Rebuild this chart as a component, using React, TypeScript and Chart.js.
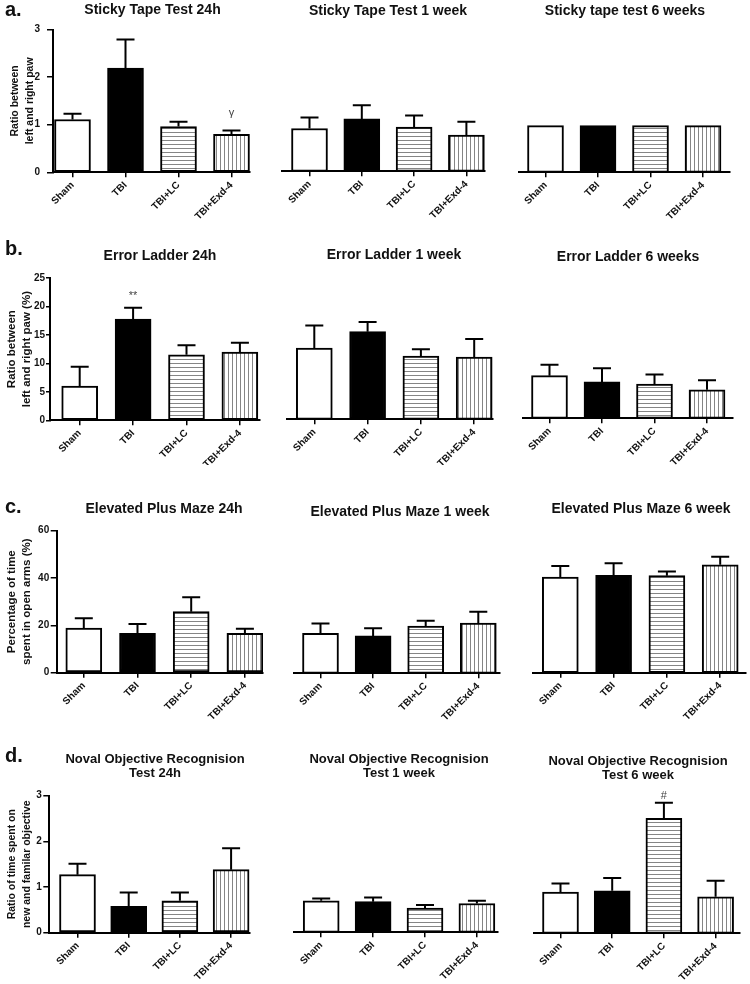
import React, { useEffect, useRef } from 'react';
import { Chart, registerables } from 'chart.js';

Chart.register(...registerables);

const FONT = "'Liberation Sans', Arial, Helvetica, sans-serif";

// ---------- data ----------
const groups = ['Sham', 'TBI', 'TBI+LC', 'TBI+Exd-4'];

const stickyTicks = [0, 1, 2, 3];
const ladderTicks = [0, 5, 10, 15, 20, 25];
const mazeTicks = [0, 20, 40, 60];
const novelTicks = [0, 1, 2, 3];

// a. Sticky tape test (mean, SEM)
const sticky24h = [1.11, 2.19, 0.96, 0.8];
const sticky24hSem = [0.12, 0.6, 0.1, 0.08];
const sticky24hMarks = ['', '', '', 'γ'];
const sticky1w = [0.9, 1.1, 0.93, 0.76];
const sticky1wSem = [0.23, 0.29, 0.24, 0.28];
const sticky6w = [0.98, 0.98, 0.98, 0.98];
const sticky6wSem = [0, 0, 0, 0];

// b. Error ladder
const ladder24h = [6.0, 17.8, 11.5, 12.0];
const ladder24hSem = [3.4, 2.0, 1.7, 1.65];
const ladder24hMarks = ['', '**', '', ''];
const ladder1w = [12.5, 15.4, 11.1, 10.95];
const ladder1wSem = [4.0, 1.7, 1.2, 3.15];
const ladder6w = [7.5, 6.4, 6.0, 5.0];
const ladder6wSem = [1.9, 2.4, 1.7, 1.7];

// c. Elevated plus maze
const maze24h = [18.8, 16.6, 25.8, 16.6];
const maze24hSem = [4.2, 4.0, 6.1, 2.0];
const maze1w = [16.9, 15.8, 20.0, 21.2];
const maze1wSem = [4.1, 3.2, 2.2, 4.8];
const maze6w = [40.4, 41.1, 41.0, 45.6];
const maze6wSem = [4.7, 5.1, 1.8, 3.4];

// d. Novel object recognition
const novel24h = [1.27, 0.58, 0.7, 1.38];
const novel24hSem = [0.24, 0.3, 0.18, 0.47];
const novel1w = [0.69, 0.67, 0.53, 0.63];
const novel1wSem = [0.05, 0.09, 0.07, 0.06];
const novel6w = [0.9, 0.93, 2.52, 0.8];
const novel6wSem = [0.19, 0.28, 0.34, 0.35];
const novel6wMarks = ['', '', '#', ''];

// ---------- layout ----------
const COLS = [
  { l: 0, r: 270 },
  { l: 270, r: 510 },
  { l: 510, r: 750 },
];

type RowDef = {
  t: number; b: number; yMax: number; ppu: number; ticks: number[];
  yTitle: string[]; yTitleSize: number; letter: string; letterY: number; yTitleX: number;
  titleSize: number; tickLen: number; tickPad: number;
};

const ROWS: RowDef[] = [
  { t: 0, b: 235, yMax: 3, ppu: 47.6, ticks: stickyTicks, yTitle: ['Ratio between', 'left and right paw'], yTitleSize: 10.5, letter: 'a.', letterY: 16, yTitleX: 15, titleSize: 14, tickLen: 6, tickPad: 7 },
  { t: 235, b: 465, yMax: 25, ppu: 5.69, ticks: ladderTicks, yTitle: ['Ratio between', 'left and right paw (%)'], yTitleSize: 11.5, letter: 'b.', letterY: 255, yTitleX: 12, titleSize: 14, tickLen: 4, tickPad: 1 },
  { t: 465, b: 722, yMax: 60, ppu: 2.367, ticks: mazeTicks, yTitle: ['Percentage of time', 'spent in open arms (%)'], yTitleSize: 11.5, letter: 'c.', letterY: 513, yTitleX: 12, titleSize: 14, tickLen: 6, tickPad: 1.5 },
  { t: 722, b: 984, yMax: 3, ppu: 45.67, ticks: novelTicks, yTitle: ['Ratio of time spent on', 'new and familar objective'], yTitleSize: 10.5, letter: 'd.', letterY: 762, yTitleX: 12, titleSize: 13, tickLen: 6, tickPad: 1.5 },
];

type PanelDef = {
  row: number; col: number; title: string[]; tx: number; ty: number;
  values: number[]; sem: number[]; marks?: string[]; markDy?: number;
  x0: number; sp: number; L: number; R: number; bottom: number;
};

const PANELS: PanelDef[] = [
  { row: 0, col: 0, title: ['Sticky Tape Test 24h'], tx: 152.5, ty: 10.5, values: sticky24h, sem: sticky24hSem, marks: sticky24hMarks, markDy: 14, x0: 72.5, sp: 53, L: 53, R: 250, bottom: 172.3 },
  { row: 0, col: 1, title: ['Sticky Tape Test 1 week'], tx: 388, ty: 10.7, values: sticky1w, sem: sticky1wSem, x0: 309.5, sp: 52.3, L: 282, R: 485, bottom: 171.3 },
  { row: 0, col: 2, title: ['Sticky tape test 6 weeks'], tx: 625, ty: 11, values: sticky6w, sem: sticky6wSem, x0: 545.5, sp: 52.5, L: 519, R: 730, bottom: 172.3 },

  { row: 1, col: 0, title: ['Error Ladder 24h'], tx: 160, ty: 256, values: ladder24h, sem: ladder24hSem, marks: ladder24hMarks, markDy: 9, x0: 79.7, sp: 53.4, L: 50, R: 260, bottom: 420.3 },
  { row: 1, col: 1, title: ['Error Ladder 1 week'], tx: 394, ty: 255, values: ladder1w, sem: ladder1wSem, x0: 314.3, sp: 53.3, L: 287, R: 493, bottom: 419.3 },
  { row: 1, col: 2, title: ['Error Ladder 6 weeks'], tx: 628, ty: 257, values: ladder6w, sem: ladder6wSem, x0: 549.5, sp: 52.5, L: 523, R: 733, bottom: 418.3 },

  { row: 2, col: 0, title: ['Elevated Plus Maze 24h'], tx: 164, ty: 509, values: maze24h, sem: maze24hSem, x0: 83.8, sp: 53.7, L: 56.7, R: 263, bottom: 672.7 },
  { row: 2, col: 1, title: ['Elevated Plus Maze 1 week'], tx: 400, ty: 512, values: maze1w, sem: maze1wSem, x0: 320.5, sp: 52.6, L: 294, R: 500, bottom: 673.3 },
  { row: 2, col: 2, title: ['Elevated Plus Maze 6 week'], tx: 641, ty: 509, values: maze6w, sem: maze6wSem, x0: 560.3, sp: 53.3, L: 533, R: 746, bottom: 672.7 },

  { row: 3, col: 0, title: ['Noval Objective Recognision', 'Test 24h'], tx: 155, ty: 759, values: novel24h, sem: novel24hSem, x0: 77.5, sp: 51.2, L: 49.3, R: 250, bottom: 932.7 },
  { row: 3, col: 1, title: ['Noval Objective Recognision', 'Test 1 week'], tx: 399, ty: 759, values: novel1w, sem: novel1wSem, x0: 321.2, sp: 51.9, L: 294, R: 498, bottom: 932.3 },
  { row: 3, col: 2, title: ['Noval Objective Recognision', 'Test 6 week'], tx: 638, ty: 761, values: novel6w, sem: novel6wSem, marks: novel6wMarks, markDy: 4, x0: 560.5, sp: 51.7, L: 534, R: 740, bottom: 933.3 },
];

function stripe(ctx: CanvasRenderingContext2D, kind: 'h' | 'v'): CanvasPattern | string {
  const c = document.createElement('canvas');
  c.width = 4;
  c.height = 4;
  const g = c.getContext('2d')!;
  g.fillStyle = '#ffffff';
  g.fillRect(0, 0, 4, 4);
  g.fillStyle = '#858585';
  if (kind === 'h') g.fillRect(0, 0, 4, 1);
  else g.fillRect(0, 0, 1, 4);
  return ctx.createPattern(c, 'repeat') || '#ccc';
}

const Panel: React.FC<{ p: PanelDef }> = ({ p }) => {
  const ref = useRef<HTMLCanvasElement>(null);
  const row = ROWS[p.row];
  const col = COLS[p.col];
  const w = col.r - col.l;
  const h = row.b - row.t;

  useEffect(() => {
    const canvas = ref.current!;
    const ctx = canvas.getContext('2d')!;
    const first = p.col === 0;
    const plotTop = p.bottom - row.yMax * row.ppu;

    const errPlugin = {
      id: 'errbars',
      afterDatasetsDraw(chart: any) {
        const c = chart.ctx;
        const ys = chart.scales.y;
        const meta = chart.getDatasetMeta(0);
        c.save();
        c.strokeStyle = '#000';
        c.lineWidth = 2;
        meta.data.forEach((el: any, i: number) => {
          const s = p.sem[i];
          const topPx = ys.getPixelForValue(p.values[i] + s);
          if (s > 0) {
            c.beginPath();
            c.moveTo(el.x, el.y);
            c.lineTo(el.x, topPx);
            c.moveTo(el.x - 9, topPx);
            c.lineTo(el.x + 9, topPx);
            c.stroke();
          }
          const m = p.marks ? p.marks[i] : '';
          if (m) {
            c.fillStyle = '#444';
            c.font = `11px ${FONT}`;
            c.textAlign = 'center';
            c.textBaseline = 'alphabetic';
            c.fillText(m, el.x, topPx - (p.markDy || 6));
          }
        });
        c.restore();
      },
    };

    const textPlugin = {
      id: 'texts',
      afterDraw(chart: any) {
        const c = chart.ctx;
        c.save();
        c.fillStyle = '#111';
        c.textAlign = 'center';
        c.textBaseline = 'middle';
        c.font = `bold ${row.titleSize}px ${FONT}`;
        p.title.forEach((line, k) => c.fillText(line, p.tx - col.l, p.ty - row.t + k * 14));
        if (first) {
          c.textAlign = 'left';
          c.textBaseline = 'alphabetic';
          c.font = `bold 20px ${FONT}`;
          c.fillText(row.letter, 5 - col.l, row.letterY - row.t);
        }
        c.restore();
      },
    };

    const chart = new Chart(ctx, {
      type: 'bar',
      data: {
        datasets: [
          {
            data: p.values.map((v, i) => ({ x: i, y: v })),
            backgroundColor: ['#ffffff', '#000000', stripe(ctx, 'h'), stripe(ctx, 'v')] as any,
            borderColor: '#000',
            borderWidth: 2,
            borderSkipped: false,
            barThickness: 36,
          } as any,
        ],
      },
      options: {
        responsive: false,
        animation: false,
        devicePixelRatio: 1,
        events: [],
        layout: {
          padding: {
            left: first ? 0 : p.L - col.l,
            right: col.r - p.R,
            top: plotTop - row.t,
            bottom: 0,
          },
        },
        plugins: {
          legend: { display: false },
          tooltip: { enabled: false },
          title: { display: false },
        },
        scales: {
          x: {
            type: 'linear',
            bounds: 'data',
            offset: false,
            min: (p.L - p.x0) / p.sp,
            max: (p.R - p.x0) / p.sp,
            afterBuildTicks: (s: any) => {
              s.ticks = groups.map((_, i) => ({ value: i }));
            },
            afterFit: (s: any) => {
              s.height = row.b - p.bottom;
            },
            ticks: {
              callback: (v: any) => groups[Number(v)] ?? '',
              autoSkip: false,
              maxRotation: 45,
              minRotation: 45,
              padding: 2,
              color: '#111',
              font: { family: FONT, size: 10, weight: 'bold' },
            },
            grid: {
              display: true,
              offset: false,
              drawOnChartArea: false,
              drawTicks: true,
              tickLength: 5,
              color: '#000',
              lineWidth: 1.5,
            },
            border: { display: true, color: '#000', width: 2 },
          } as any,
          y: {
            type: 'linear',
            display: first,
            min: 0,
            max: row.yMax,
            afterBuildTicks: (s: any) => {
              s.ticks = row.ticks.map((v) => ({ value: v }));
            },
            afterFit: (s: any) => {
              if (first) s.width = p.L - col.l;
            },
            ticks: {
              padding: row.tickPad,
              color: '#111',
              font: { family: FONT, size: 10, weight: 'bold' },
            },
            grid: {
              display: true,
              drawOnChartArea: false,
              drawTicks: true,
              tickLength: row.tickLen,
              color: '#000',
              lineWidth: 1.5,
            },
            border: { display: true, color: '#000', width: 2 },
            title: {
              display: true,
              text: row.yTitle,
              color: '#111',
              font: { family: FONT, size: row.yTitleSize, weight: 'bold', lineHeight: '15px' },
              padding: { top: row.yTitleX - 7.5, bottom: 0 },
            },
          } as any,
        },
      },
      plugins: [errPlugin, textPlugin],
    });
    return () => chart.destroy();
  }, []);

  return (
    <canvas
      ref={ref}
      width={w}
      height={h}
      style={{ position: 'absolute', left: col.l, top: row.t, width: w, height: h, display: 'block' }}
    />
  );
};

export default function App() {
  return (
    <div style={{ position: 'absolute', left: 0, top: 0, width: 750, height: 984, background: '#fff', overflow: 'hidden' }}>
      {PANELS.map((p, i) => (
        <Panel key={i} p={p} />
      ))}
    </div>
  );
}
